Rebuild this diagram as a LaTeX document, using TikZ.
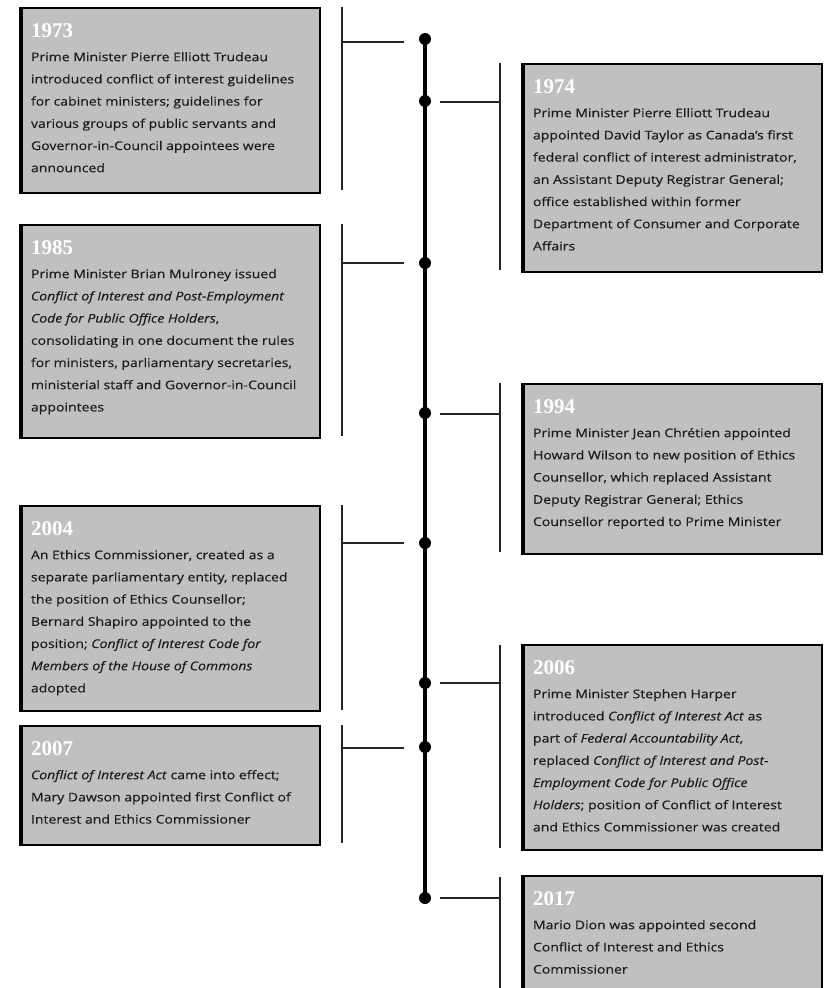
\documentclass[tikz,border=0pt]{standalone}
\usepackage{fontspec}
\setmainfont{Open Sans}[FakeStretch=1.17,FakeBold=0.35]
\newfontfamily\yrfont{Liberation Serif}
\definecolor{boxgray}{RGB}{192,192,192}
\definecolor{txtc}{RGB}{28,28,28}
\newcommand\evtext[3]{\parbox[t][#1][t]{280pt}{\raggedright\rule{0pt}{20pt}{\yrfont\bfseries\fontsize{21}{21}\selectfont\color{white}#2}\par\vspace{2pt}\fontsize{12}{22.2}\selectfont\color{txtc}#3}}
\tikzset{
  evbox/.style={draw=black, line width=2pt, fill=boxgray, anchor=north west, inner sep=9pt},
  evedge/.style={line width=4.5pt, draw=black},
  brk/.style={line width=2.6pt, draw=black!85},
  tline/.style={line width=3.5pt, draw=black},
  tdot/.style={circle, fill=black, minimum size=12pt, inner sep=0pt}
}
\begin{document}
\begin{tikzpicture}[x=1pt,y=-1pt]
\useasboundingbox (0,0) rectangle (823,988);
\clip (0,0) rectangle (823,988);
% timeline dots
\node[tdot] (d1973) at (425,39) {};
\node[tdot] (d1974) at (425,101) {};
\node[tdot] (d1985) at (425,263) {};
\node[tdot] (d1994) at (425,413) {};
\node[tdot] (d2004) at (425,543) {};
\node[tdot] (d2006) at (425,683) {};
\node[tdot] (d2007) at (425,747) {};
\node[tdot] (d2017) at (425,898) {};
\draw[tline] (d1973.center) -- (d2017.center);
% 1973
\node[evbox] (b1973) at (21,7) {\evtext{167pt}{1973}{Prime Minister Pierre Elliott Trudeau\\introduced conflict of interest guidelines\\for cabinet ministers; guidelines for\\various groups of public servants and\\Governor-in-Council appointees were\\announced}};
\draw[evedge] (b1973.north west) -- (b1973.south west);
\coordinate (t1973) at (342,7); \coordinate (u1973) at (342,190);
\coordinate (m1973) at (342,42); \coordinate (n1973) at (404,42);
\draw[brk] (t1973) -- (u1973); \draw[brk] (m1973) -- (n1973);
% 1974
\node[evbox] (b1974) at (523,63) {\evtext{190pt}{1974}{Prime Minister Pierre Elliott Trudeau\\appointed David Taylor as Canada's first\\federal conflict of interest administrator,\\an Assistant Deputy Registrar General;\\office established within former\\Department of Consumer and Corporate\\Affairs}};
\draw[evedge] (b1974.north west) -- (b1974.south west);
\coordinate (t1974) at (500,63); \coordinate (u1974) at (500,270);
\coordinate (m1974) at (500,102); \coordinate (n1974) at (440,102);
\draw[brk] (t1974) -- (u1974); \draw[brk] (m1974) -- (n1974);
% 1985
\node[evbox] (b1985) at (21,224) {\evtext{195pt}{1985}{Prime Minister Brian Mulroney issued\\\textit{Conflict of Interest and Post-Employment}\\\textit{Code for Public Office Holders},\\consolidating in one document the rules\\for ministers, parliamentary secretaries,\\ministerial staff and Governor-in-Council\\appointees}};
\draw[evedge] (b1985.north west) -- (b1985.south west);
\coordinate (t1985) at (342,224); \coordinate (u1985) at (342,436);
\coordinate (m1985) at (342,263); \coordinate (n1985) at (404,263);
\draw[brk] (t1985) -- (u1985); \draw[brk] (m1985) -- (n1985);
% 1994
\node[evbox] (b1994) at (523,383) {\evtext{152pt}{1994}{Prime Minister Jean Chrétien appointed\\Howard Wilson to new position of Ethics\\Counsellor, which replaced Assistant\\Deputy Registrar General; Ethics\\Counsellor reported to Prime Minister}};
\draw[evedge] (b1994.north west) -- (b1994.south west);
\coordinate (t1994) at (500,383); \coordinate (u1994) at (500,552);
\coordinate (m1994) at (500,414); \coordinate (n1994) at (440,414);
\draw[brk] (t1994) -- (u1994); \draw[brk] (m1994) -- (n1994);
% 2004
\node[evbox] (b2004) at (21,505) {\evtext{187pt}{2004}{An Ethics Commissioner, created as a\\separate parliamentary entity, replaced\\the position of Ethics Counsellor;\\Bernard Shapiro appointed to the\\position; \textit{Conflict of Interest Code for}\\\textit{Members of the House of Commons}\\adopted}};
\draw[evedge] (b2004.north west) -- (b2004.south west);
\coordinate (t2004) at (342,505); \coordinate (u2004) at (342,710);
\coordinate (m2004) at (342,543); \coordinate (n2004) at (404,543);
\draw[brk] (t2004) -- (u2004); \draw[brk] (m2004) -- (n2004);
% 2006
\node[evbox] (b2006) at (523,644) {\evtext{187pt}{2006}{Prime Minister Stephen Harper\\introduced \textit{Conflict of Interest Act} as\\part of \textit{Federal Accountability Act},\\replaced \textit{Conflict of Interest and Post-}\\\textit{Employment Code for Public Office}\\\textit{Holders}; position of Conflict of Interest\\and Ethics Commissioner was created}};
\draw[evedge] (b2006.north west) -- (b2006.south west);
\coordinate (t2006) at (500,645); \coordinate (u2006) at (500,848);
\coordinate (m2006) at (500,683); \coordinate (n2006) at (440,683);
\draw[brk] (t2006) -- (u2006); \draw[brk] (m2006) -- (n2006);
% 2007
\node[evbox] (b2007) at (21,725) {\evtext{101pt}{2007}{\textit{Conflict of Interest Act} came into effect;\\Mary Dawson appointed first Conflict of\\Interest and Ethics Commissioner}};
\draw[evedge] (b2007.north west) -- (b2007.south west);
\coordinate (t2007) at (342,725); \coordinate (u2007) at (342,843);
\coordinate (m2007) at (342,748); \coordinate (n2007) at (404,748);
\draw[brk] (t2007) -- (u2007); \draw[brk] (m2007) -- (n2007);
% 2017
\node[evbox] (b2017) at (523,875) {\evtext{130pt}{2017}{Mario Dion was appointed second\\Conflict of Interest and Ethics\\Commissioner}};
\draw[evedge] (b2017.north west) -- (b2017.south west);
\coordinate (t2017) at (500,877); \coordinate (u2017) at (500,1000);
\coordinate (m2017) at (500,898); \coordinate (n2017) at (440,898);
\draw[brk] (t2017) -- (u2017); \draw[brk] (m2017) -- (n2017);
\end{tikzpicture}
\end{document}
